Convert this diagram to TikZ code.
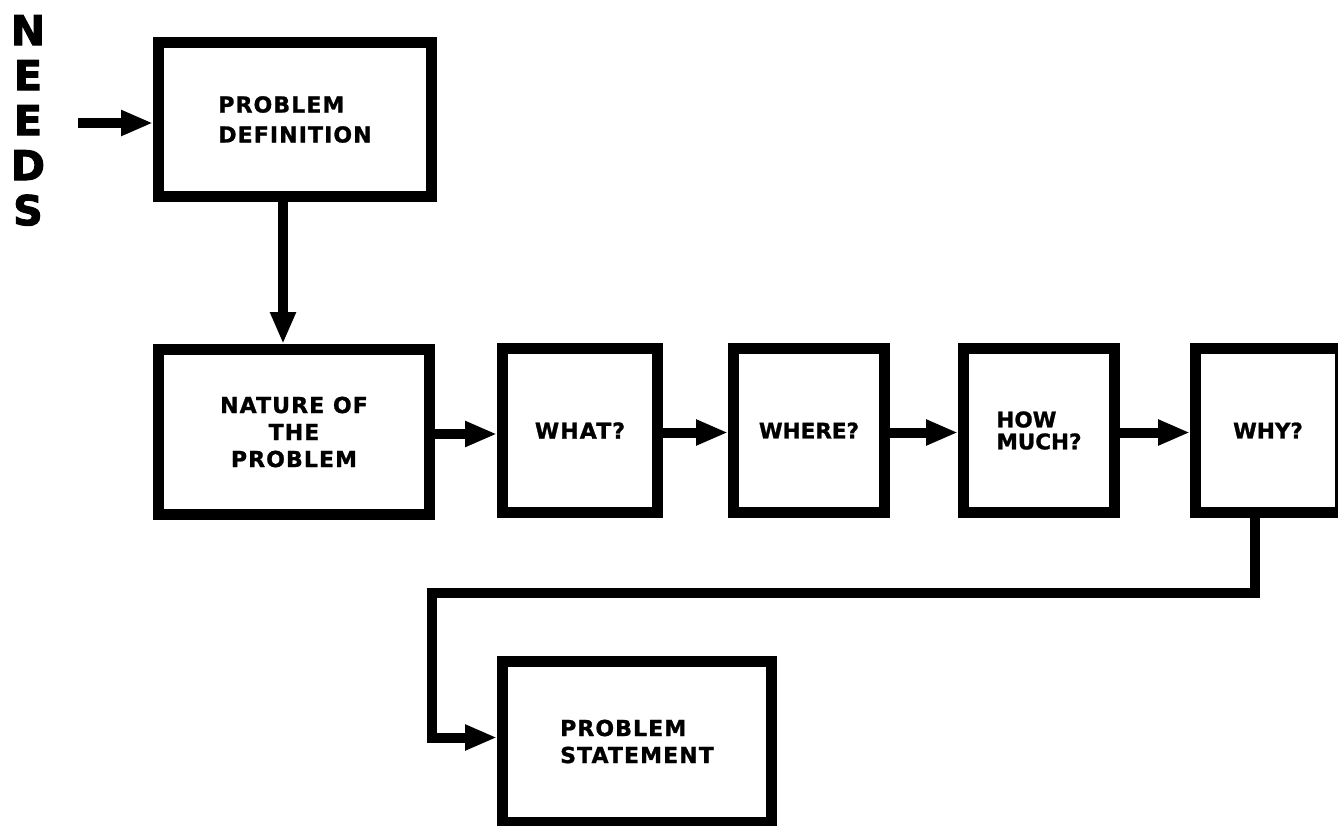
\documentclass[tikz,border=0pt]{standalone}
\usepackage{fontspec}
\usetikzlibrary{arrows.meta}
\newfontfamily\boxfont[LetterSpace=5,FakeBold=1.2]{DejaVu Sans}
\newfontfamily\boxfontnarrow[FakeBold=1.2]{DejaVu Sans}
\newfontfamily\needsfont[FakeBold=2.5]{DejaVu Sans}

\tikzset{
  blk/.style={draw=black, line width=11pt, rectangle, inner sep=0pt,
    outer sep=5.5pt, fill=white,
    font=\boxfont\bfseries\fontsize{22}{27}\selectfont},
  narrowtext/.style={font=\boxfontnarrow\bfseries\fontsize{21.5}{27}\selectfont},
  flow/.style={line width=10pt, line join=miter,
    -{Triangle[length=32pt,width=24pt]}},
}

\begin{document}
\begin{tikzpicture}[x=1pt,y=-1pt]
\useasboundingbox (0,0) rectangle (1338,825);
\fill[white] (0,0) rectangle (1338,825);

% vertical input label
\node[font=\needsfont\bfseries\fontsize{41}{45}\selectfont, align=center,
      inner sep=0pt, anchor=north] (needs) at (28,15) {N\\E\\E\\D\\S};

% boxes
\node[blk, minimum width=273pt, minimum height=154pt, align=left]
  (pd) at (295,119.5) {PROBLEM\\[3pt]DEFINITION};
\node[blk, minimum width=271pt, minimum height=165pt, align=center]
  (np) at (294,432) {NATURE OF\\THE\\PROBLEM};
\node[blk, minimum width=155pt, minimum height=164pt]
  (what) at (580,430.5) {WHAT?};
\node[blk, narrowtext, minimum width=151pt, minimum height=164pt]
  (where) at (809,430.5) {WHERE?};
\node[blk, narrowtext, minimum width=151pt, minimum height=164pt, align=left]
  (howmuch) at (1039,430.5) {HOW\\[-5pt]MUCH?};
\node[blk, narrowtext, minimum width=145pt, minimum height=164pt]
  (why) at (1268,430.5) {WHY?};
\node[blk, minimum width=269pt, minimum height=161pt, align=left]
  (ps) at (637,741.5) {PROBLEM\\STATEMENT};

% connectors
\coordinate (needsin) at (78,123);
\draw[flow] (needsin) -- (needsin -| pd.west);

\coordinate (pdout) at ([xshift=-12pt]pd.south);
\draw[flow] (pdout) -- (pdout |- np.north);

\coordinate (npout) at ([yshift=-2pt]np.east);
\draw[flow] (npout) -- (npout -| what.west);
\draw[flow] ([yshift=-2pt]what.east) -- ([yshift=-2pt]where.west);
\draw[flow] ([yshift=-2pt]where.east) -- ([yshift=-2pt]howmuch.west);
\draw[flow] ([yshift=-2pt]howmuch.east) -- ([yshift=-2pt]why.west);

\coordinate (whyout) at ([xshift=-13pt]why.south);
\coordinate (bend) at (432,593);
\coordinate (psin) at ([yshift=4pt]ps.west);
\draw[flow] (whyout) |- (bend) |- (psin);
\end{tikzpicture}
\end{document}
